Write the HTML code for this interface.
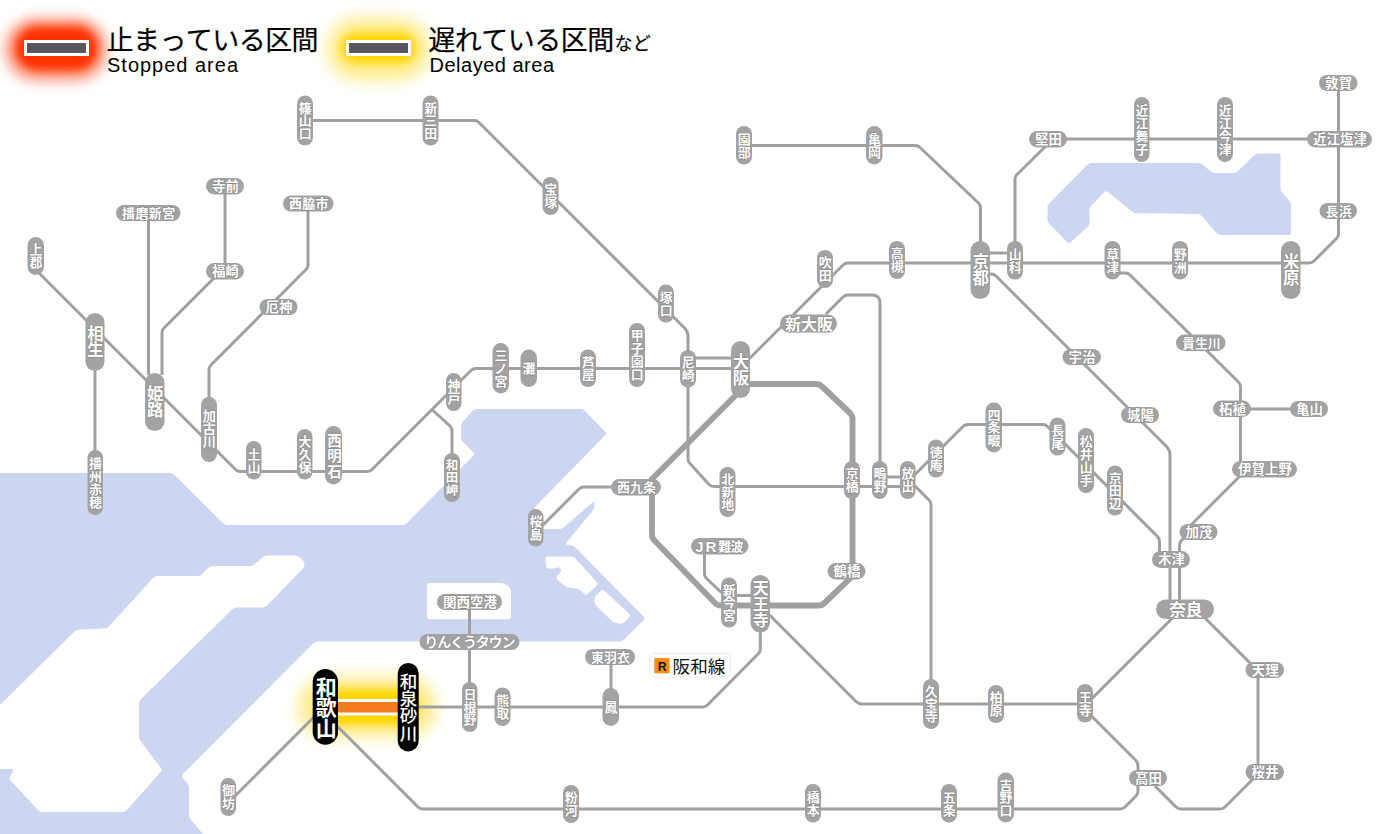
<!DOCTYPE html>
<html lang="ja"><head><meta charset="utf-8"><title>JR West Kansai area train status map</title>
<style>html,body{margin:0;padding:0;background:#fff;overflow:hidden}svg{display:block}
.st{font-family:"Liberation Sans","Noto Sans CJK JP",sans-serif;font-weight:bold;fill:#fff;stroke:#8a8a8a;stroke-width:1.2px;paint-order:stroke;stroke-linejoin:round}</style></head>
<body>
<svg width="1400" height="834" viewBox="0 0 1400 834">
<defs><filter id="bl4" x="-50%" y="-100%" width="200%" height="300%"><feGaussianBlur stdDeviation="4"/></filter><filter id="bl6" x="-50%" y="-100%" width="200%" height="300%"><feGaussianBlur stdDeviation="6"/></filter><filter id="bl8" x="-50%" y="-100%" width="200%" height="300%"><feGaussianBlur stdDeviation="8"/></filter><filter id="sh" x="-20%" y="-50%" width="140%" height="200%"><feGaussianBlur in="SourceAlpha" stdDeviation="1.5" result="b"/><feFlood flood-color="#000" flood-opacity="0.22"/><feComposite in2="b" operator="in"/><feMerge><feMergeNode/><feMergeNode in="SourceGraphic"/></feMerge></filter></defs>
<path d="M0,473L170,473Q172.5,473 174.28,474.76L223.22,523.24Q225,525 227.5,525L402.5,525Q405,525 406.76,523.22L473.24,455.78Q475,454 473.23,452.23L462.77,441.77Q461,440 461,437.5L461,426.5Q461,424 462.64,422.11L472.36,410.89Q474,409 476.5,409L580.5,409Q583,409 584.75,410.79L605.25,431.71Q607,433.5 605.25,435.29L535.75,506.21Q534,508 534,510.5L534,526.5Q534,529 536.5,529L559.5,529Q562,529 563.88,527.35L592.62,502.15Q594.5,500.5 594.5,503L594.5,506Q594.5,508.5 592.92,510.43L566.58,542.57Q565,544.5 567.47,544.91L571.53,545.59Q574,546 575.76,547.78L643.74,616.72Q645.5,618.5 643.71,620.25L623.79,639.75Q622,641.5 619.5,641.5L317.5,641.5Q315,641.5 313.24,643.27L182.76,774.23Q181,776 182.66,777.87L187.34,783.13Q189,785 189,787.5L189,815Q189,817.5 190.62,819.41L203,834L0,834z" fill="#cdd6f0"/>
<path d="M263.09,557.11Q265,555.5 267.5,555.5L295.5,555.5Q298,555.5 299.77,557.27L302.73,560.23Q304.5,562 304.5,564.5L304.5,564.5Q304.5,567 302.75,568.79L266.75,605.71Q265,607.5 262.5,607.5L236.5,607.5Q234,607.5 232.22,609.25L140.78,699.25Q139,701 139,703.5L139,736.5Q139,739 140.51,740.99L160.99,768.01Q162.5,770 160.83,771.86L126.67,810.14Q125,812 122.5,812L42.5,812Q40,812 38.29,810.18L10.71,780.82Q9,779 10.12,776.76L12.88,771.24Q14,769 11.5,769L0,769L0,705L74.22,631.76Q76,630 78.49,629.84L105.01,628.16Q107.5,628 109.19,626.15L153.31,577.85Q155,576 157.5,576L197.5,576Q200,576 201.77,574.23L208.23,567.77Q210,566 212.5,566L250,566Q252.5,566 254.41,564.39z" fill="#fff"/>
<path d="M545.6,559Q545.5,556.5 548,556.5L571,556.5Q573.5,556.5 575.18,558.35L596.82,582.15Q598.5,584 596.66,585.69L587.84,593.81Q586,595.5 584.17,593.8L580.83,590.7Q579,589 576.53,588.62L568.47,587.38Q566,587 564.1,585.37L557.4,579.63Q555.5,578 557.14,576.11L560.36,572.39Q562,570.5 560.35,568.62L560.15,568.38Q558.5,566.5 557.5,567.5L557.5,567.5Q556.5,568.5 554,568.5L548.5,568.5Q546,568.5 545.9,566z" fill="#fff"/>
<path d="M600.73,590.77Q602.5,589 604.33,590.7L629.17,613.8Q631,615.5 629.23,617.27L624.27,622.23Q622.5,624 620.03,623.59L615.97,622.91Q613.5,622.5 611.71,620.76L596.29,605.74Q594.5,604 594.5,601.5L594.5,599.5Q594.5,597 596.27,595.23z" fill="#fff"/>
<path d="M430,583H501Q505,583 508,586L509,587Q511,589 511,593V616Q511,619.3 508,619.3H430Q427,619.3 427,616V586Q427,583 430,583z" fill="#fff"/>
<path d="M1087.24,164.78Q1089,163 1091.5,163L1198.5,163Q1201,163 1202.89,164.64L1210.61,171.36Q1212.5,173 1215,173L1233.5,173Q1236,173 1237.79,171.25L1254.21,155.25Q1256,153.5 1258.5,153.5L1278,153.5Q1280.5,153.5 1280.5,156L1280.5,188.5Q1280.5,191 1282.19,192.85L1289.31,200.65Q1291,202.5 1291,205L1291,232.5Q1291,235 1288.5,235L1220.5,235Q1218,235 1216.37,233.1L1201.63,215.9Q1200,214 1197.5,213.96L1136.5,213.04Q1134,213 1132.05,211.43L1107.95,192.07Q1106,190.5 1104.26,192.29L1091.24,205.71Q1089.5,207.5 1089.5,210L1089.5,222.5Q1089.5,225 1087.67,226.7L1070.83,242.3Q1069,244 1067.25,242.21L1049.25,223.79Q1047.5,222 1047.5,219.5L1047.5,207.5Q1047.5,205 1049.26,203.22z" fill="#cdd6f0"/>
<g filter="url(#bl8)"><rect x="298" y="677" width="138" height="60" rx="30" fill="#ffe566" fill-opacity=".75"/></g>
<g filter="url(#bl4)"><rect x="318" y="689" width="100" height="36" rx="18" fill="#ffd500"/></g>
<g fill="none" stroke="#a0a0a0" stroke-width="3" stroke-linecap="butt" stroke-linejoin="round"><path d="M313,120.5H474.5Q477,120.5 479,122.5L684.5,328Q688,331.5 688,336V459Q688,461.5 690,463.5L709,484.5Q711,486.5 714,486.5H908"/><path d="M36,270L236,470Q237.5,471.5 240,471.5H367.500Q370,471.500 372,469.500L471,370.5Q473,368.5 476,368.5H740"/><path d="M95,371V452"/><path d="M148.5,221V375"/><path d="M225,194V266"/><path d="M214,278L164,328Q162,330 162,333V375"/><path d="M308,211V265Q308,267.5 306,269.500L211,365Q209,367 209,370V399"/><path d="M432.5,410L450,426Q452,428 452,431V455"/><path d="M752,145.5H915Q918,145.5 920,147.500L978.500,203Q980.500,205 980.500,208V243"/><path d="M1015,243V179Q1015,176.500 1017,174.500L1046,146"/><path d="M1060,139H1338.5"/><path d="M1338.5,91V234Q1338.5,236.500 1336.5,238.500L1314,261Q1312,263 1309,263H848Q845,263 843,265L740,368"/><path d="M985,253H1010"/><path d="M692,358H735"/><path d="M826,314L843,297Q845,295 848,295H872Q880,295 880,303V463"/><path d="M986,274H991Q994,274 996,276L1166,446Q1170,450 1170,455V601"/><path d="M1116,273H1125.500Q1128,273 1130,275L1238,381.500Q1240.500,384 1240.500,387V463"/><path d="M1249,409H1292"/><path d="M1240,476L1191,525"/><path d="M1184,538Q1179.500,541 1179.500,546V601"/><path d="M913,476.500L963,426.500Q965,424.500 968,424.500H1043Q1045.500,424.500 1047.500,426.500L1156.500,535.500Q1159.500,538.500 1159.500,542V553"/><path d="M913,484L929,500Q931,502 931,505V681"/><path d="M884,477H904"/><path d="M733,595.5H755"/><path d="M704.5,553V574Q704.5,576.500 706.500,578.500L723,594"/><path d="M541,527L579,489Q581,487 584,487H615"/><path d="M760.300,630V649Q760.300,651.500 758.500,653.500L707.500,705Q705.500,707 702.500,707H417"/><path d="M469.5,609V684"/><path d="M611,664V690"/><path d="M768,613.5L856,701.500Q858.500,704 862,704H1085"/><path d="M1091,699.5L1174,616.5"/><path d="M1204,617L1251,664"/><path d="M1258,677V766"/><path d="M1092,716.500L1135.500,760Q1138,762.500 1138,766V791Q1138,794 1136,796L1125,807Q1123,809 1120,809H423Q420,809 418,807L335,724"/><path d="M1155,786L1176,807Q1178,809 1181,809H1220Q1223,809 1225,807L1254,778"/><path d="M234,797L315,716"/></g>
<g fill="none" stroke="#a0a0a0" stroke-width="5.9" stroke-linejoin="round"><path d="M740,384H816Q819.500,384 822,386.500L850,413Q852.500,415.500 852.500,419V573Q852.500,576 850.500,578L824,603.500Q822,605.500 819,605.500H721Q717.500,605.500 715,603L654.500,540.500Q652,538 652,534.500V479L737,394"/></g>
<rect x="336" y="699" width="64" height="16.5" fill="#fff"/><rect x="336" y="702" width="64" height="10.5" fill="#f87a1e"/>
<rect x="206" y="178" width="38" height="16.5" rx="8.25" fill="#a3a3a3"/><rect x="116" y="205" width="64.5" height="16" rx="8" fill="#a3a3a3"/><rect x="283" y="195.5" width="50.5" height="16" rx="8" fill="#a3a3a3"/><rect x="206" y="263" width="38" height="16.5" rx="8.25" fill="#a3a3a3"/><rect x="259.5" y="299" width="38" height="16" rx="8" fill="#a3a3a3"/><rect x="1029" y="131" width="38" height="16.5" rx="8.25" fill="#a3a3a3"/><rect x="1319" y="75" width="38.5" height="16" rx="8" fill="#a3a3a3"/><rect x="1307" y="131" width="65" height="16.5" rx="8.25" fill="#a3a3a3"/><rect x="1319.5" y="203" width="37.5" height="16" rx="8" fill="#a3a3a3"/><rect x="780" y="314.5" width="57" height="18" rx="9" fill="#a3a3a3"/><rect x="1062.5" y="349" width="38.5" height="16" rx="8" fill="#a3a3a3"/><rect x="1176" y="334.5" width="49.5" height="16.5" rx="8.25" fill="#a3a3a3"/><rect x="1121" y="407" width="38" height="16" rx="8" fill="#a3a3a3"/><rect x="1213" y="400.5" width="38" height="16.5" rx="8.25" fill="#a3a3a3"/><rect x="1290" y="401" width="38" height="16" rx="8" fill="#a3a3a3"/><rect x="1232" y="461" width="65" height="16.5" rx="8.25" fill="#a3a3a3"/><rect x="1179.5" y="524" width="38" height="16" rx="8" fill="#a3a3a3"/><rect x="1152" y="551" width="38" height="17" rx="8.5" fill="#a3a3a3"/><rect x="1156" y="599.5" width="58" height="19.5" rx="9.75" fill="#a3a3a3"/><rect x="1245.5" y="662" width="38.5" height="16" rx="8" fill="#a3a3a3"/><rect x="1245.5" y="764" width="38.5" height="16" rx="8" fill="#a3a3a3"/><rect x="1129" y="770" width="38" height="16" rx="8" fill="#a3a3a3"/><rect x="611" y="479" width="50" height="16.5" rx="8.25" fill="#a3a3a3"/><rect x="691" y="538" width="57.5" height="16.5" rx="8.25" fill="#a3a3a3"/><rect x="827.5" y="563" width="38" height="16.5" rx="8.25" fill="#a3a3a3"/><rect x="437" y="594" width="65" height="16" rx="8" fill="#a3a3a3"/><rect x="419.5" y="634" width="100" height="16" rx="8" fill="#a3a3a3"/><rect x="585" y="649" width="50" height="16" rx="8" fill="#a3a3a3"/><rect x="297" y="95.5" width="16" height="50" rx="8" fill="#a3a3a3"/><rect x="422.5" y="95.5" width="16" height="50" rx="8" fill="#a3a3a3"/><rect x="542.5" y="177" width="16" height="38" rx="8" fill="#a3a3a3"/><rect x="27.5" y="237" width="16.5" height="38" rx="8.25" fill="#a3a3a3"/><rect x="85.5" y="313" width="19" height="58" rx="9.5" fill="#a3a3a3"/><rect x="145" y="373" width="19.5" height="58" rx="9.75" fill="#a3a3a3"/><rect x="201" y="397" width="16" height="65" rx="8" fill="#a3a3a3"/><rect x="246" y="441" width="15.5" height="38.5" rx="7.75" fill="#a3a3a3"/><rect x="297" y="429" width="15.5" height="50.5" rx="7.75" fill="#a3a3a3"/><rect x="325" y="426" width="17" height="58.5" rx="8.5" fill="#a3a3a3"/><rect x="87.5" y="450" width="15.5" height="65" rx="7.75" fill="#a3a3a3"/><rect x="492.5" y="343" width="16.5" height="50.5" rx="8.25" fill="#a3a3a3"/><rect x="520.5" y="349.5" width="16.5" height="37.5" rx="8.25" fill="#a3a3a3"/><rect x="580" y="349.5" width="16" height="37.5" rx="8" fill="#a3a3a3"/><rect x="629" y="323" width="16" height="64" rx="8" fill="#a3a3a3"/><rect x="658" y="284.5" width="16" height="38" rx="8" fill="#a3a3a3"/><rect x="446" y="373" width="15.5" height="38" rx="7.75" fill="#a3a3a3"/><rect x="444" y="453" width="16" height="49" rx="8" fill="#a3a3a3"/><rect x="680" y="350" width="16" height="37.5" rx="8" fill="#a3a3a3"/><rect x="731" y="341" width="19" height="57" rx="9.5" fill="#a3a3a3"/><rect x="817" y="250" width="16" height="38" rx="8" fill="#a3a3a3"/><rect x="889" y="241" width="16" height="38" rx="8" fill="#a3a3a3"/><rect x="736" y="126" width="16" height="38.5" rx="8" fill="#a3a3a3"/><rect x="866" y="126" width="16.5" height="38.5" rx="8.25" fill="#a3a3a3"/><rect x="1134" y="97" width="15.5" height="65" rx="7.75" fill="#a3a3a3"/><rect x="1217" y="97" width="16" height="65" rx="8" fill="#a3a3a3"/><rect x="970.5" y="241" width="19.5" height="58" rx="9.75" fill="#a3a3a3"/><rect x="1007" y="241" width="16" height="38.5" rx="8" fill="#a3a3a3"/><rect x="1104.5" y="241" width="16" height="38.5" rx="8" fill="#a3a3a3"/><rect x="1172" y="241" width="16" height="38.5" rx="8" fill="#a3a3a3"/><rect x="1281" y="241" width="19.5" height="58" rx="9.75" fill="#a3a3a3"/><rect x="985.5" y="402.5" width="16.5" height="50" rx="8.25" fill="#a3a3a3"/><rect x="1049.5" y="417.5" width="16" height="38" rx="8" fill="#a3a3a3"/><rect x="1078" y="428" width="16" height="65" rx="8" fill="#a3a3a3"/><rect x="1107" y="465.5" width="16" height="50" rx="8" fill="#a3a3a3"/><rect x="844" y="461" width="16" height="38" rx="8" fill="#a3a3a3"/><rect x="872" y="461" width="15.5" height="38" rx="7.75" fill="#a3a3a3"/><rect x="900" y="461" width="15.5" height="38" rx="7.75" fill="#a3a3a3"/><rect x="928" y="439.5" width="16" height="38" rx="8" fill="#a3a3a3"/><rect x="719.5" y="467" width="16" height="50" rx="8" fill="#a3a3a3"/><rect x="721" y="577.5" width="16" height="50" rx="8" fill="#a3a3a3"/><rect x="750.5" y="575" width="19.5" height="57.5" rx="9.75" fill="#a3a3a3"/><rect x="528" y="509" width="15.5" height="37.5" rx="7.75" fill="#a3a3a3"/><rect x="462" y="682" width="15.5" height="50" rx="7.75" fill="#a3a3a3"/><rect x="494.5" y="687.5" width="16" height="38.5" rx="8" fill="#a3a3a3"/><rect x="602.5" y="688" width="16.5" height="38" rx="8.25" fill="#a3a3a3"/><rect x="923" y="679" width="16" height="50" rx="8" fill="#a3a3a3"/><rect x="988" y="685" width="16" height="38" rx="8" fill="#a3a3a3"/><rect x="1077" y="684" width="16" height="38.5" rx="8" fill="#a3a3a3"/><rect x="805" y="784" width="16" height="38.5" rx="8" fill="#a3a3a3"/><rect x="941" y="784" width="16" height="38.5" rx="8" fill="#a3a3a3"/><rect x="997.5" y="772.5" width="16.5" height="50" rx="8.25" fill="#a3a3a3"/><rect x="563" y="785" width="16" height="38" rx="8" fill="#a3a3a3"/><rect x="220.5" y="778" width="15.5" height="38" rx="7.75" fill="#a3a3a3"/><rect x="312.7" y="669" width="25.3" height="75.7" rx="12.65" fill="#000"/><rect x="397.7" y="663" width="21" height="88.4" rx="10.5" fill="#000"/>
<text class="st" font-size="13.5" x="212.1 225.6" y="191.04">寺前</text>
<text class="st" font-size="13" x="122.1 135.47 148.85 162.22" y="217.79">播磨新宮</text>
<text class="st" font-size="13" x="289.1 302.27 315.43" y="208.29">西脇市</text>
<text class="st" font-size="13.5" x="212.1 225.6" y="276.04">福崎</text>
<text class="st" font-size="13.5" x="265.6 279.1" y="311.79">厄神</text>
<text class="st" font-size="13.5" x="1035.1 1048.6" y="144.04">堅田</text>
<text class="st" font-size="13.5" x="1325.1 1338.85" y="87.79">敦賀</text>
<text class="st" font-size="13.5" x="1313.1 1326.6 1340.1 1353.6" y="144.04">近江塩津</text>
<text class="st" font-size="13" x="1325.6 1338.85" y="215.79">長浜</text>
<text class="st" font-size="16" x="785.1 801.1 817.1" y="329.58">新大阪</text>
<text class="st" font-size="13.5" x="1068.6 1082.35" y="361.79">宇治</text>
<text class="st" font-size="13" x="1182.1 1194.93 1207.77" y="347.54">貴生川</text>
<text class="st" font-size="13.5" x="1127.1 1140.6" y="419.79">城陽</text>
<text class="st" font-size="13.5" x="1219.1 1232.6" y="413.54">柘植</text>
<text class="st" font-size="13.5" x="1296.1 1309.6" y="413.79">亀山</text>
<text class="st" font-size="13.5" x="1238.1 1251.6 1265.1 1278.6" y="474.04">伊賀上野</text>
<text class="st" font-size="13.5" x="1185.6 1199.1" y="536.79">加茂</text>
<text class="st" font-size="13.5" x="1158.1 1171.6" y="564.29">木津</text>
<text class="st" font-size="17" x="1169.1 1185.6" y="615.52">奈良</text>
<text class="st" font-size="13.5" x="1251.6 1265.35" y="674.79">天理</text>
<text class="st" font-size="13.5" x="1251.6 1265.35" y="776.79">桜井</text>
<text class="st" font-size="13.5" x="1135.1 1148.6" y="782.79">高田</text>
<text class="st" font-size="13" x="617.1 630.1 643.1" y="492.04">西九条</text>
<text class="st" y="551.8"><tspan font-size="15" x="695.2 705.4">JR</tspan><tspan font-size="13" x="718.2 730.5" y="551.04">難波</tspan></text>
<text class="st" font-size="13.5" x="833.6 847.1" y="576.04">鶴橋</text>
<text class="st" font-size="13.5" x="443.1 456.6 470.1 483.6" y="606.79">関西空港</text>
<text class="st" font-size="14" x="424.33 437.19 450.04 462.9 475.76 488.61 501.47" y="647.36">りんくうタウン</text>
<text class="st" font-size="13" x="591.1 604.1 617.1" y="661.79">東羽衣</text>
<text class="st" font-size="13" x="298.7 298.7 298.7" y="112.65 125.31 137.98">篠山口</text>
<text class="st" font-size="13" x="424.2 424.2 424.2" y="112.65 125.31 137.98">新三田</text>
<text class="st" font-size="13" x="544.2 544.2" y="194.44 207.44">宝塚</text>
<text class="st" font-size="13" x="29.45 29.45" y="254.44 267.44">上郡</text>
<text class="st" font-size="16.5" x="87.15 87.15" y="340.08 356.08">相生</text>
<text class="st" font-size="16.5" x="146.9 146.9" y="400.08 416.08">姫路</text>
<text class="st" font-size="13.5" x="202.6 202.6 202.6" y="421.44 434.44 447.44">加古川</text>
<text class="st" font-size="13" x="247.45 247.45" y="458.66 471.91">土山</text>
<text class="st" font-size="13" x="298.45 298.45 298.45" y="446.29 459.13 471.96">大久保</text>
<text class="st" font-size="14.5" x="327.15 327.15 327.15" y="445.56 461.06 476.56">西明石</text>
<text class="st" font-size="13" x="88.95 88.95 88.95 88.95" y="467.66 480.91 494.16 507.41">播州赤穂</text>
<text class="st" font-size="13" x="494.45 494.45 494.45" y="360.29 373.13 385.96">三ノ宮</text>
<text class="st" font-size="13" x="522.45" y="373.11">灘</text>
<text class="st" font-size="13" x="581.7 581.7" y="366.72 379.47">芦屋</text>
<text class="st" font-size="13" x="630.7 630.7 630.7 630.7" y="340.44 353.44 366.44 379.44">甲子園口</text>
<text class="st" font-size="13" x="659.7 659.7" y="301.94 314.94">塚口</text>
<text class="st" font-size="13" x="447.45 447.45" y="390.44 403.44">神戸</text>
<text class="st" font-size="12.5" x="445.7 445.7 445.7" y="469.85 482.19 494.52">和田岬</text>
<text class="st" font-size="13" x="681.7 681.7" y="367.22 379.97">尼崎</text>
<text class="st" font-size="16.5" x="732.65 732.65" y="367.58 383.58">大阪</text>
<text class="st" font-size="13" x="818.7 818.7" y="267.44 280.44">吹田</text>
<text class="st" font-size="13" x="890.7 890.7" y="258.44 271.44">高槻</text>
<text class="st" font-size="13" x="737.7 737.7" y="143.66 156.91">園部</text>
<text class="st" font-size="13" x="867.95 867.95" y="143.66 156.91">亀岡</text>
<text class="st" font-size="13" x="1135.45 1135.45 1135.45 1135.45" y="114.66 127.91 141.16 154.41">近江舞子</text>
<text class="st" font-size="13" x="1218.7 1218.7 1218.7 1218.7" y="114.66 127.91 141.16 154.41">近江今津</text>
<text class="st" font-size="16.5" x="972.4 972.4" y="268.08 284.08">京都</text>
<text class="st" font-size="13" x="1008.7 1008.7" y="258.66 271.91">山科</text>
<text class="st" font-size="13" x="1106.2 1106.2" y="258.66 271.91">草津</text>
<text class="st" font-size="13" x="1173.7 1173.7" y="258.66 271.91">野洲</text>
<text class="st" font-size="16.5" x="1282.9 1282.9" y="268.08 284.08">米原</text>
<text class="st" font-size="13" x="987.45 987.45 987.45" y="419.65 432.31 444.98">四条畷</text>
<text class="st" font-size="13" x="1051.2 1051.2" y="434.94 447.94">長尾</text>
<text class="st" font-size="13" x="1079.7 1079.7 1079.7 1079.7" y="445.66 458.91 472.16 485.41">松井山手</text>
<text class="st" font-size="13" x="1108.7 1108.7 1108.7" y="482.65 495.31 507.98">京田辺</text>
<text class="st" font-size="13" x="845.7 845.7" y="478.44 491.44">京橋</text>
<text class="st" font-size="13" x="873.45 873.45" y="478.44 491.44">鴫野</text>
<text class="st" font-size="13" x="901.45 901.45" y="478.44 491.44">放出</text>
<text class="st" font-size="13" x="929.7 929.7" y="456.94 469.94">徳庵</text>
<text class="st" font-size="13" x="721.2 721.2 721.2" y="484.15 496.81 509.48">北新地</text>
<text class="st" font-size="13" x="722.7 722.7 722.7" y="594.65 607.31 619.98">新今宮</text>
<text class="st" font-size="16" x="752.65 752.65 752.65" y="593.78 609.94 626.11">天王寺</text>
<text class="st" font-size="13" x="529.45 529.45" y="526.22 538.97">桜島</text>
<text class="st" font-size="13" x="463.45 463.45 463.45" y="699.15 711.81 724.48">日根野</text>
<text class="st" font-size="13" x="496.2 496.2" y="705.16 718.41">熊取</text>
<text class="st" font-size="13" x="604.45" y="711.86">鳳</text>
<text class="st" font-size="13" x="924.7 924.7 924.7" y="696.15 708.81 721.48">久宝寺</text>
<text class="st" font-size="13" x="989.7 989.7" y="702.44 715.44">柏原</text>
<text class="st" font-size="13" x="1078.7 1078.7" y="701.66 714.91">王寺</text>
<text class="st" font-size="13" x="806.7 806.7" y="801.66 814.91">橋本</text>
<text class="st" font-size="13" x="942.7 942.7" y="801.66 814.91">五条</text>
<text class="st" font-size="13" x="999.45 999.45 999.45" y="789.65 802.31 814.98">吉野口</text>
<text class="st" font-size="13" x="564.7 564.7" y="802.44 815.44">粉河</text>
<text class="st" font-size="13" x="221.95 221.95" y="795.44 808.44">御坊</text>
<text font-family="Liberation Sans, Noto Sans CJK JP, sans-serif" font-weight="bold" font-size="21" fill="#fff" x="315.75 315.75 315.75" y="694.64 715.21 735.78">和歌山</text>
<text font-family="Liberation Sans, Noto Sans CJK JP, sans-serif" font-weight="500" font-size="17.5" fill="#fff" x="399.8 399.8 399.8 399.8" y="687.86 705.16 722.46 739.76">和泉砂川</text>
<g filter="url(#sh)"><rect x="650.7" y="654.3" width="78.6" height="22" rx="3" fill="#fff"/></g><rect x="654.3" y="658" width="15.3" height="15.3" fill="#ff8c1a"/><text x="662.3" y="670.9" font-family="Liberation Sans, sans-serif" font-weight="bold" font-size="12.4" text-anchor="middle" fill="#111">R</text><text font-family="Liberation Sans, Noto Sans CJK JP, sans-serif" font-size="17.6" fill="#111" x="672.6 690.2 707.8" y="672.64">阪和線</text>
<g filter="url(#bl6)"><rect x="4" y="17" width="104" height="65" rx="32" fill="#ff7755" fill-opacity=".65"/></g><g filter="url(#bl4)"><rect x="15" y="26" width="83" height="45" rx="22" fill="#ff3300"/></g><rect x="24" y="40" width="65" height="16" fill="#fff"/><rect x="27" y="43" width="59" height="10" fill="#58585f"/><g filter="url(#bl8)"><rect x="327" y="18" width="103" height="62" rx="31" fill="#ffe566" fill-opacity=".75"/></g><g filter="url(#bl4)"><rect x="341" y="33" width="75" height="30" rx="15" fill="#ffd500"/></g><rect x="346" y="40" width="65" height="16" fill="#fff"/><rect x="349" y="43" width="59" height="10" fill="#58585f"/><g fill="#000" stroke="#000" stroke-width="0.2" font-family="Liberation Sans, Noto Sans CJK JP, sans-serif"><text font-size="27" x="106.61 133.03 159.45 185.87 212.29 238.71 265.13 291.55" y="49.76">止まっている区間</text><text font-size="27" x="428.15 454.65 481.15 507.65 534.15 560.65 587.15" y="49.76">遅れている区間</text><text font-size="18" x="614.5 632.7" y="50.42">など</text></g><text x="107" y="72" font-family="Liberation Sans, sans-serif" font-size="20" textLength="131" lengthAdjust="spacing" fill="#000">Stopped area</text><text x="429.5" y="72" font-family="Liberation Sans, sans-serif" font-size="20" textLength="124.5" lengthAdjust="spacing" fill="#000">Delayed area</text>
</svg>
</body></html>
